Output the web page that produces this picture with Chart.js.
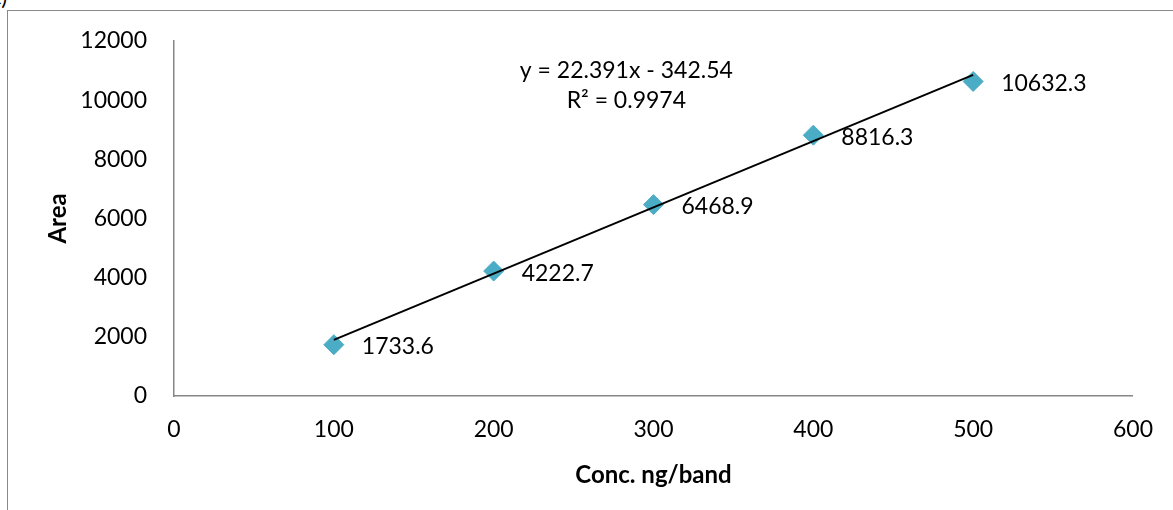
<!DOCTYPE html>
<html>
<head>
<meta charset="utf-8">
<script src="https://cdn.jsdelivr.net/npm/chart.js@4"></script>
<style>
  body { margin: 0; background: #fff; }
  .wrap { position: relative; width: 1173px; height: 510px; overflow: hidden; }
  .frame { position: absolute; left: 7px; top: 10px; width: 1170px; height: 510px;
           border-left: 1.5px solid #8a8a8a; border-top: 1.5px solid #8a8a8a; }
  .tag { position: absolute; left: -9px; top: -17px; font: 22px Lato, sans-serif; color: #000; }
  canvas { position: absolute; left: 0; top: 0; }
</style>
</head>
<body>
<div class="wrap">
  <span class="tag">c)</span>
  <div class="frame"></div>
  <canvas id="c" width="1173" height="510"></canvas>
</div>
<script>
// data
const concs = [100, 200, 300, 400, 500];
const areas = [1733.6, 4222.7, 6468.9, 8816.3, 10632.3];
const trendX = [100, 500];
const trendY = [1896.6, 10853.0];
const equationLines = ["y = 22.391x - 342.54", "R\u00B2 = 0.9974"];

const FONT = "Lato, sans-serif";
const axisGray = "#868686";

//draws the value next to each diamond plus the trendline equation
const labelPlugin = {
  id: "labels",
  afterDatasetsDraw(chart) {
    const ctx = chart.ctx;
    const meta = chart.getDatasetMeta(1);
    ctx.save();
    ctx.font = "23px " + FONT;
    ctx.fillStyle = "#000";
    ctx.textAlign = "left";
    ctx.textBaseline = "middle";
    meta.data.forEach((pt, i) => {
      ctx.fillText(areas[i].toFixed(1), pt.x + 28, pt.y + 2);
    });
    //equation box
    const xs = chart.scales.x;
    const ys = chart.scales.y;
    ctx.textAlign = "center";
    ctx.fillText(equationLines[0], xs.getPixelForValue(283), ys.getPixelForValue(11000));
    ctx.fillText(equationLines[1], xs.getPixelForValue(283), ys.getPixelForValue(10000));
    ctx.restore();
  },
};

new Chart(document.getElementById("c"), {
  type: "scatter",
  data: {
    datasets: [
      {
        //linear trendline, drawn on top
        type: "line",
        data: trendX.map((x, i) => ({ x: x, y: trendY[i] })),
        borderColor: "#000",
        borderWidth: 2,
        pointRadius: 0,
        fill: false,
      },
      {
        data: concs.map((x, i) => ({ x: x, y: areas[i] })),
        pointStyle: "rectRot",
        pointRadius: 10,
        pointBackgroundColor: "#4bacc6",
        pointBorderColor: "#4bacc6",
        pointBorderWidth: 1,
      },
    ],
  },
  options: {
    responsive: false,
    animation: false,
    layout: { padding: { left: 0, top: 41, right: 37, bottom: 0 } },
    plugins: { legend: { display: false }, tooltip: { enabled: false } },
    scales: {
      x: {
        type: "linear",
        min: 0,
        max: 600,
        ticks: { stepSize: 100, color: "#000", font: { family: FONT, size: 23 }, padding: 20 },
        grid: { display: false, drawTicks: false },
        border: { display: true, color: axisGray, width: 1.5 },
        title: {
          display: true,
          text: "Conc. ng/band",
          color: "#000",
          font: { family: FONT, size: 24, weight: "bold" },
          padding: { top: 0, bottom: 20 },
        },
        afterFit(scale) { scale.height = 114; },
      },
      y: {
        min: 0,
        max: 12000,
        ticks: {
          stepSize: 2000,
          color: "#000",
          font: { family: FONT, size: 23 },
          padding: 27,
          //plain numbers, no thousands separator
          callback: (v) => String(v),
        },
        grid: { display: false, drawTicks: false },
        border: { display: true, color: axisGray, width: 1.5 },
        title: {
          display: true,
          text: "Area",
          color: "#000",
          font: { family: FONT, size: 24, weight: "bold" },
          padding: { top: 44, bottom: 0 },
        },
        afterFit(scale) { scale.width = 174; },
      },
    },
  },
  plugins: [labelPlugin],
});
</script>
</body>
</html>
